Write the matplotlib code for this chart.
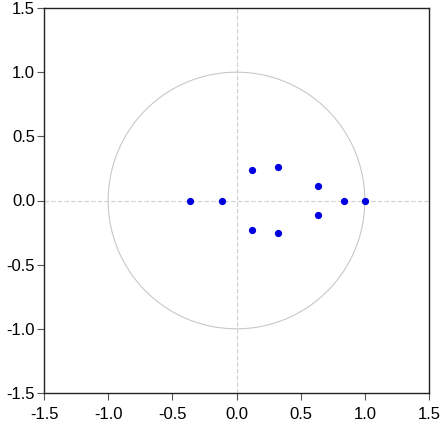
import numpy as np
import matplotlib
matplotlib.use("Agg")
import matplotlib.pyplot as plt

plt.rcParams['font.family'] = ['Liberation Sans', 'DejaVu Sans']

root_re = [-0.36, -0.115, 0.123, 0.123, 0.323, 0.323, 0.633, 0.633, 0.84, 1.0]
root_im = [0.0, 0.0, 0.235, -0.232, 0.259, -0.254, 0.115, -0.111, 0.0, 0.0]
ticks = [-1.5, -1.0, -0.5, 0.0, 0.5, 1.0, 1.5]
tick_labels = ["-1.5", "-1.0", "-0.5", "0.0", "0.5", "1.0", "1.5"]

fig = plt.figure(figsize=(4.41, 4.37), dpi=100)
ax = fig.add_axes([44/441, 44/437, 385/441, 385/437])

theta = np.linspace(0, 2*np.pi, 400)
ax.plot(np.cos(theta), np.sin(theta), color='#c8c8c8', lw=0.8, zorder=1)
ax.axhline(0, color='#d0d0d0', lw=0.8, ls=(0, (4, 2)), zorder=1)
ax.axvline(0, color='#d0d0d0', lw=0.8, ls=(0, (4, 2)), zorder=1)
ax.plot(root_re, root_im, 'o', color='#0000e0', ms=4.2, zorder=3)

ax.set_xlim(-1.5, 1.5)
ax.set_ylim(-1.5, 1.5)
ax.set_xticks(ticks)
ax.set_xticklabels(tick_labels)
ax.set_yticks(ticks)
ax.set_yticklabels(tick_labels)
ax.tick_params(direction='out', length=5, labelsize=12, color='#555555')
ax.tick_params(axis='x', pad=5)
ax.tick_params(axis='y', pad=1.5)
for s in ax.spines.values():
    s.set_linewidth(1.0)
    s.set_color('#222222')

fig.savefig("out.png", dpi=100)
